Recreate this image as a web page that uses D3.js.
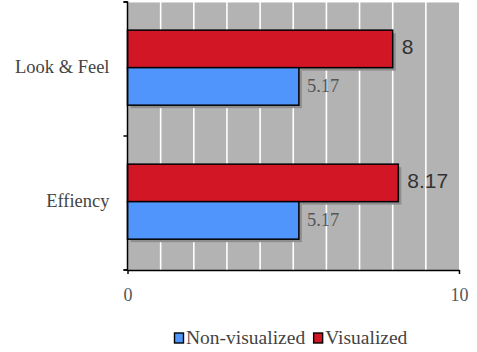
<!DOCTYPE html>
<html>
<head>
<meta charset="utf-8">
<script src="https://cdn.jsdelivr.net/npm/d3@7"></script>
<style>
  html, body { margin: 0; padding: 0; background: #fff; }
  svg { display: block; }
</style>
</head>
<body>
<svg id="chart" width="477" height="352"></svg>
<script>
// Survey scores per category, two series
const categories = ["Look & Feel", "Effiency"];
const seriesNames = ["Visualized", "Non-visualized"];
const visualized = [8, 8.17];
const nonVisualized = [5.17, 5.17];
const xTicks = [0, 10];
const legendOrder = ["Non-visualized", "Visualized"];

const colors = { "Visualized": "#d31626", "Non-visualized": "#4f95fc" };
const valuesBySeries = { "Visualized": visualized, "Non-visualized": nonVisualized };

const SERIF = "'Liberation Serif', 'Times New Roman', serif";
const SANS = "'Liberation Sans', Arial, sans-serif";

const svg = d3.select("#chart");
const plot = { left: 127.5, right: 459, top: 2, bottom: 270 };

const x = d3.scaleLinear().domain([0, 10]).range([plot.left, plot.right]);
const y = d3.scaleBand().domain(categories).range([plot.top, plot.bottom]);
const inner = d3.scaleBand().domain(seriesNames)
  .range([y.bandwidth() * 0.21, y.bandwidth() * 0.77]);

// plot background
svg.append("rect")
  .attr("x", plot.left).attr("y", plot.top)
  .attr("width", plot.right - plot.left).attr("height", plot.bottom - plot.top)
  .attr("fill", "#b3b3b3");
svg.append("line")
  .attr("x1", plot.left).attr("x2", plot.right)
  .attr("y1", plot.top + 0.5).attr("y2", plot.top + 0.5)
  .attr("stroke", "#d6d6d6").attr("stroke-width", 1);

// vertical gridlines, one per unit
svg.append("g").selectAll("line")
  .data(d3.range(1, 10))
  .join("line")
  .attr("x1", d => x(d)).attr("x2", d => x(d))
  .attr("y1", plot.top).attr("y2", plot.bottom)
  .attr("stroke", "#ffffff").attr("stroke-width", 1.6);

// rows of bars
const rows = [];
categories.forEach((c, i) => {
  seriesNames.forEach(s => rows.push({ cat: c, series: s, value: valuesBySeries[s][i] }));
});

const barG = svg.append("g");
// drop shadows
barG.selectAll("rect.shadow")
  .data(rows)
  .join("rect")
  .attr("class", "shadow")
  .attr("x", x(0) + 3)
  .attr("y", d => y(d.cat) + inner(d.series) + 3)
  .attr("width", d => x(d.value) - x(0))
  .attr("height", inner.bandwidth())
  .attr("fill", "#8e8e8e");
// bars
barG.selectAll("rect.bar")
  .data(rows)
  .join("rect")
  .attr("class", "bar")
  .attr("x", x(0))
  .attr("y", d => y(d.cat) + inner(d.series))
  .attr("width", d => x(d.value) - x(0))
  .attr("height", inner.bandwidth())
  .attr("fill", d => colors[d.series])
  .attr("stroke", "#000").attr("stroke-width", 1.5);

// value labels
barG.selectAll("text.val")
  .data(rows)
  .join("text")
  .attr("class", "val")
  .attr("x", d => x(d.value) + (d.series === "Visualized" ? 9 : 8))
  .attr("y", d => y(d.cat) + inner(d.series) + inner.bandwidth() / 2 + (d.series === "Visualized" ? 5 : 6))
  .style("font-family", d => d.series === "Visualized" ? SANS : SERIF)
  .style("font-size", d => (d.series === "Visualized" ? 21 : 18.5) + "px")
  .attr("fill", d => d.series === "Visualized" ? "#333" : "#555")
  .text(d => d.value);

// axes
const yAxis = d3.axisLeft(y).tickSize(4).tickPadding(14).tickSizeOuter(4);
const yAxisG = svg.append("g").attr("transform", `translate(${plot.left},0)`).call(yAxis);
yAxisG.attr("font-family", null).attr("font-size", null);
yAxisG.select(".domain").attr("stroke", "#000").attr("stroke-width", 1.5)
  .attr("d", `M-4,${plot.top}H0V${plot.bottom}H-4`);
// ticks sit on band edges
yAxisG.selectAll(".tick line").remove();
yAxisG.append("g").selectAll("line")
  .data([plot.top, y(categories[1]), plot.bottom])
  .join("line")
  .attr("x1", -4).attr("x2", 0)
  .attr("y1", d => d).attr("y2", d => d)
  .attr("stroke", "#000").attr("stroke-width", 1.5);
yAxisG.selectAll(".tick text")
  .style("font-family", SERIF)
  .style("font-size", "18.5px")
  .attr("fill", "#444")
  .attr("dy", "0.2em");

const xAxis = d3.axisBottom(x).tickValues(xTicks).tickSize(4).tickPadding(14).tickSizeOuter(0);
const xAxisG = svg.append("g").attr("transform", `translate(0,${plot.bottom})`).call(xAxis);
xAxisG.attr("font-family", null).attr("font-size", null);
xAxisG.select(".domain").attr("stroke", "#000").attr("stroke-width", 1.5);
xAxisG.selectAll(".tick line").attr("stroke", "#000").attr("stroke-width", 1.5);
xAxisG.selectAll(".tick text")
  .style("font-family", SERIF)
  .style("font-size", "18px")
  .attr("fill", "#555");

// legend
const legend = svg.append("g").attr("transform", "translate(174,344)");
let lx = 0;
legendOrder.forEach(name => {
  const g = legend.append("g").attr("transform", `translate(${lx},0)`);
  g.append("rect")
    .attr("x", 0.5).attr("y", -11).attr("width", 9).attr("height", 10)
    .attr("fill", colors[name]).attr("stroke", "#000").attr("stroke-width", 1.4);
  const t = g.append("text")
    .attr("x", 12).attr("y", 0)
    .style("font-family", SERIF)
    .style("font-size", "19.5px")
    .attr("fill", "#444")
    .text(name);
  lx += 12 + t.node().getComputedTextLength() + 8;
});
</script>
</body>
</html>
